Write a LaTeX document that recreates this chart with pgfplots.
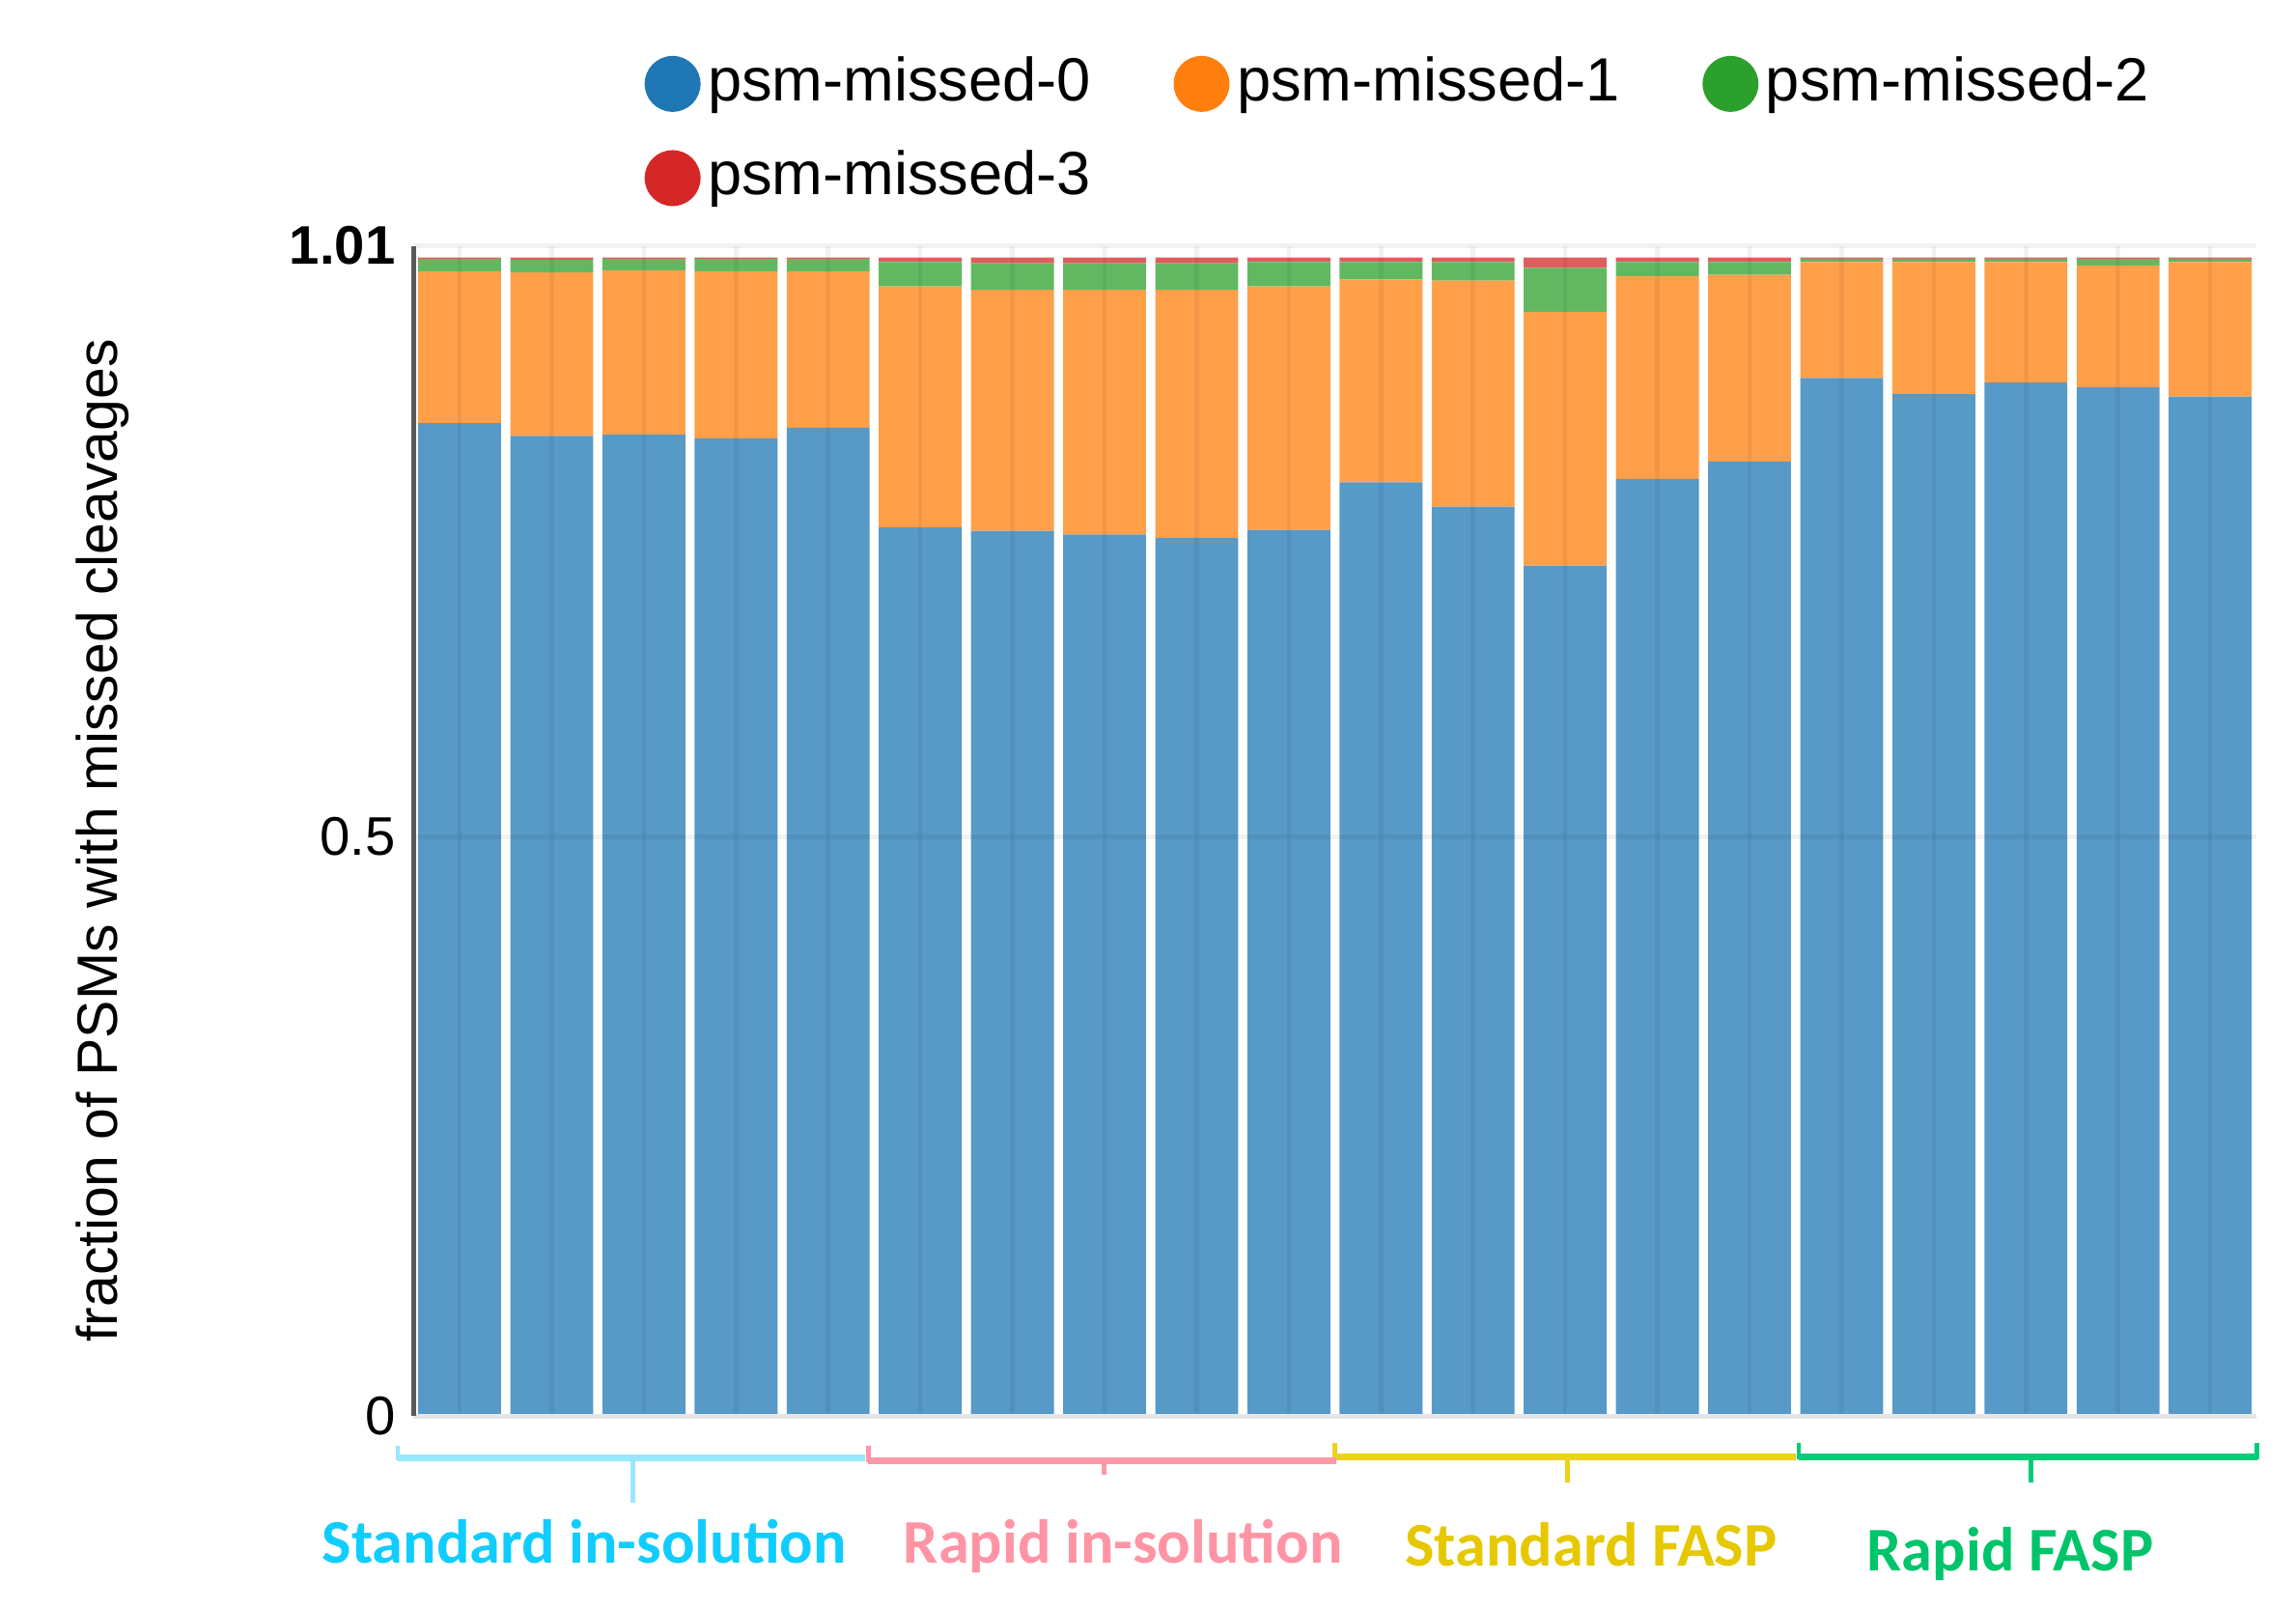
\documentclass[border=0pt]{standalone}
\usepackage{fontspec}
\setmainfont{Liberation Sans}
\newfontfamily\catfont{Carlito}
\usepackage{pgfplots}
\usepackage{pgfplotstable}
\pgfplotsset{compat=1.18}

% legend colours (full) and bar fills (faded)
\definecolor{cblue}{HTML}{1F77B4}
\definecolor{corange}{HTML}{FF7F0E}
\definecolor{cgreen}{HTML}{2CA02C}
\definecolor{cred}{HTML}{D62728}
\definecolor{bblue}{HTML}{5799C7}
\definecolor{borange}{HTML}{FF9F4A}
\definecolor{bgreen}{HTML}{61B861}
\definecolor{bred}{HTML}{E05D5E}
% group colours
\definecolor{txtA}{HTML}{11CCFF}
\definecolor{brkA}{HTML}{99E6FF}
\definecolor{txtB}{HTML}{FF94A5}
\definecolor{brkB}{HTML}{FF97A8}
\definecolor{txtC}{HTML}{E6C800}
\definecolor{brkC}{HTML}{EDD11F}
\definecolor{txtD}{HTML}{00C46A}
\definecolor{brkD}{HTML}{00CC77}

\pgfplotstableread{
x  m0    m1    m2    m3
0  0.857 0.131 0.011 0.001
1  0.846 0.141 0.011 0.002
2  0.847 0.142 0.010 0.001
3  0.844 0.144 0.011 0.001
4  0.853 0.135 0.011 0.001
5  0.767 0.208 0.021 0.004
6  0.764 0.208 0.023 0.005
7  0.761 0.211 0.023 0.005
8  0.758 0.214 0.023 0.005
9  0.765 0.210 0.021 0.004
10 0.806 0.175 0.015 0.004
11 0.785 0.195 0.016 0.004
12 0.734 0.219 0.038 0.009
13 0.809 0.175 0.012 0.004
14 0.824 0.161 0.011 0.004
15 0.896 0.100 0.003 0.001
16 0.882 0.114 0.003 0.001
17 0.892 0.104 0.003 0.001
18 0.888 0.105 0.006 0.001
19 0.880 0.116 0.003 0.001
}\missdata

\tikzset{grplabel/.style={anchor=base, font=\catfont\bfseries\fontsize{12}{14}\selectfont}}

\begin{document}
\begin{tikzpicture}
\useasboundingbox (-28.1mm,-13.1mm) rectangle (127.9mm,96.2mm);
\begin{axis}[
    at={(0,0)}, anchor=south west,
    scale only axis,
    width=125.2mm, height=79.5mm,
    ybar stacked, bar width=0.9,
    xmin=-0.5, xmax=19.5, ymin=0, ymax=1.01,
    xtick={0,...,19}, xticklabels={},
    ytick={0,0.5,1.01}, yticklabels={0,0.5,\textbf{1.01}},
    major tick length=0pt,
    axis lines*=left,
    x axis line style={draw=black!10, line width=0.35mm},
    y axis line style={draw=black!65, line width=0.3mm},
    grid=major,
    grid style={draw=black, opacity=0.05, line width=0.3mm},
    axis on top,
    clip=false,
    tick label style={font=\fontsize{10.5}{12}\selectfont},
    /pgf/number format/assume math mode=true,
    ylabel={fraction of PSMs with missed cleavages},
    ylabel style={at={(axis description cs:-0.1685,0.4918)}, anchor=center,
        font=\fontsize{11}{13}\selectfont},
    legend columns=3,
    legend cell align=left,
    legend style={draw=none, fill=none, at={(0.1254,1.1623)}, anchor=north west,
        inner sep=0pt, outer sep=0pt, row sep=2.6mm,
        nodes={inner sep=0pt},
        font=\fontsize{11.8}{13}\selectfont,
        /tikz/every odd column/.append style={column sep=0.5mm},
        /tikz/every even column/.append style={column sep=5.6mm}},
]
\addplot[fill=bblue, draw=none,
    legend image code/.code={\fill[cblue] (1.9mm,-0.1mm) circle (1.9mm);}]
    table[x=x, y=m0] {\missdata};
\addplot[fill=borange, draw=none,
    legend image code/.code={\fill[corange] (1.9mm,-0.1mm) circle (1.9mm);}]
    table[x=x, y=m1] {\missdata};
\addplot[fill=bgreen, draw=none,
    legend image code/.code={\fill[cgreen] (1.9mm,-0.1mm) circle (1.9mm);}]
    table[x=x, y=m2] {\missdata};
\addplot[fill=bred, draw=none,
    legend image code/.code={\fill[cred] (1.9mm,-0.1mm) circle (1.9mm);}]
    table[x=x, y=m3] {\missdata};
\legend{psm-missed-0, psm-missed-1, psm-missed-2, psm-missed-3}

% group brackets
\draw[brkA, line width=0.44mm] (axis cs:-0.671,-0.0356) -- (axis cs:4.404,-0.0356);
\draw[brkA, line width=0.3mm] (axis cs:-0.671,-0.038) -- (axis cs:-0.671,-0.0254);
\draw[brkA, line width=0.3mm] (axis cs:1.880,-0.0356) -- (axis cs:1.880,-0.075);
\draw[brkB, line width=0.44mm] (axis cs:4.436,-0.0381) -- (axis cs:9.516,-0.0381);
\draw[brkB, line width=0.3mm] (axis cs:4.436,-0.040) -- (axis cs:4.436,-0.0254);
\draw[brkB, line width=0.3mm] (axis cs:6.992,-0.0381) -- (axis cs:6.992,-0.0504);
\draw[brkC, line width=0.44mm] (axis cs:9.5,-0.0349) -- (axis cs:14.5,-0.0349);
\draw[brkC, line width=0.3mm] (axis cs:9.5,-0.037) -- (axis cs:9.5,-0.0229);
\draw[brkC, line width=0.3mm] (axis cs:12.024,-0.0349) -- (axis cs:12.024,-0.0572);
\draw[brkD, line width=0.44mm] (axis cs:14.532,-0.0349) -- (axis cs:19.508,-0.0349);
\draw[brkD, line width=0.3mm] (axis cs:14.532,-0.037) -- (axis cs:14.532,-0.0229);
\draw[brkD, line width=0.3mm] (axis cs:19.508,-0.037) -- (axis cs:19.508,-0.0229);
\draw[brkD, line width=0.3mm] (axis cs:17.056,-0.0349) -- (axis cs:17.056,-0.0572);

% group names
\node[grplabel, text=txtA] at (axis cs:1.353,-0.127) {Standard in-solution};
\node[grplabel, text=txtB] at (axis cs:7.2,-0.127) {Rapid in-solution};
\node[grplabel, text=txtC] at (axis cs:12.28,-0.1296) {Standard FASP};
\node[grplabel, text=txtD] at (axis cs:16.83,-0.1334) {Rapid FASP};
\end{axis}
\end{tikzpicture}
\end{document}
